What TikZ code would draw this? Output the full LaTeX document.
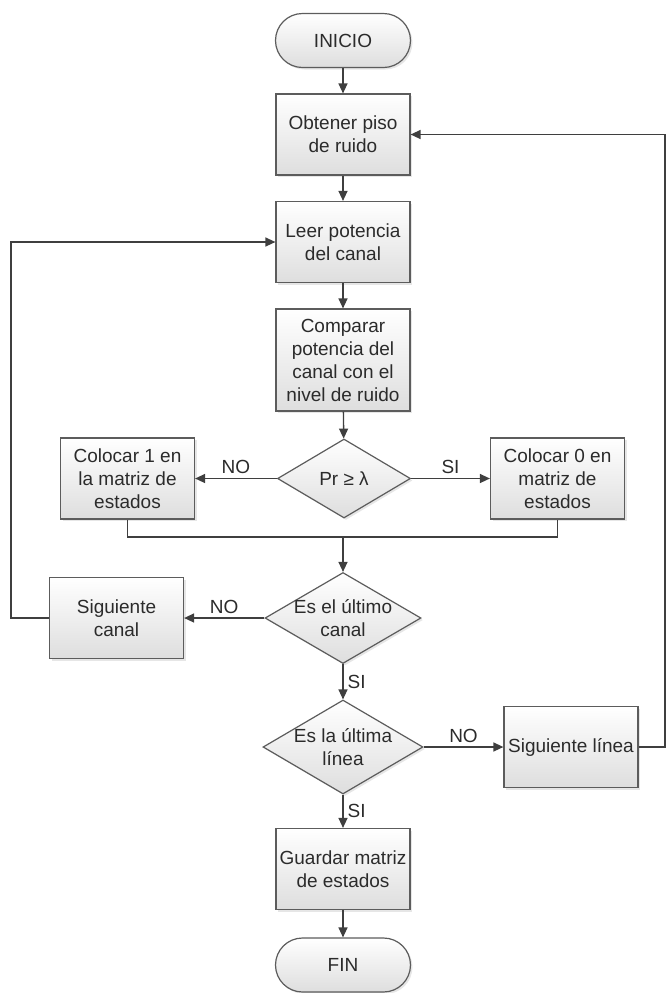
\documentclass[tikz,border=0pt]{standalone}
\usepackage{fontspec}
\setmainfont{Liberation Sans}
\usepackage{tikz}
\usetikzlibrary{arrows.meta,shapes.geometric,shadows}

\definecolor{linea}{HTML}{3F3F3F}
\definecolor{borde}{HTML}{5C5C5C}
\definecolor{texto}{HTML}{2B2B2B}

\tikzset{
    base/.style={draw=borde, line width=0.6pt, text=texto, align=center,
        top color=white, bottom color=black!13,
        drop shadow={shadow xshift=1pt, shadow yshift=-1pt, opacity=0.2},
        font=\fontsize{9.5}{11.5}\selectfont},
    caja/.style={base, rectangle, minimum width=67pt, minimum height=40.5pt, inner sep=1pt},
    terminal/.style={base, rectangle, rounded corners=13.5pt, minimum width=67.5pt, minimum height=27pt},
    decision/.style={base, diamond, aspect=1.71, inner sep=-1pt, minimum width=78pt, minimum height=45.5pt},
    flecha/.style={draw=linea, line width=0.7pt, -{Triangle[length=5pt,width=4.5pt]}},
    conector/.style={draw=linea, line width=0.7pt},
    etiqueta/.style={text=texto, inner sep=2pt, font=\fontsize{9.5}{11.5}\selectfont}
}

\begin{document}
\begin{tikzpicture}[x=0.5pt,y=-0.5pt]
        \useasboundingbox (0,0) rectangle (667,993);
        \node[terminal] (inicio) at (343,40.5) {INICIO};
        \node[caja] (piso) at (343,134.5) {Obtener piso\\de ruido};
        \node[caja] (leer) at (343,242) {Leer potencia\\del canal};
        \node[caja, minimum height=51pt] (comparar) at (343,360) {Comparar\\potencia del\\canal con el\\nivel de ruido};
        \node[decision, minimum width=66.5pt, minimum height=39.5pt] (pr) at (344,478.5) {Pr ≥ λ};
        \node[caja] (uno) at (127.5,478.5) {Colocar 1 en\\la matriz de\\estados};
        \node[caja] (cero) at (557.5,478.5) {Colocar 0 en\\matriz de\\estados};
        \coordinate (junta) at (343,537);
        \node[decision] (canal) at (343,618) {Es el último\\canal};
        \node[caja] (sigcanal) at (116.5,618) {Siguiente\\canal};
        \coordinate (izq) at (11,618);
        \node[decision, minimum width=80pt, minimum height=47pt] (ultima) at (343,747) {Es la última\\línea};
        \node[caja] (siglinea) at (571,747) {Siguiente línea};
        \coordinate (der) at (665,747);
        \node[caja] (guardar) at (343,869) {Guardar matriz\\de estados};
        \node[terminal] (fin) at (343,965) {FIN};

        \draw[flecha] (inicio) -- (piso);
        \draw[flecha] (piso) -- (leer);
        \draw[flecha] (leer) -- (comparar);
        \draw[flecha] (comparar) -- (pr);
        \draw[flecha] (pr) -- node[etiqueta, above] (no1) {NO} (uno);
        \draw[flecha] (pr) -- node[etiqueta, above] (si1) {SI} (cero);
        \draw[conector] (uno.south) |- (junta) -| (cero.south);
        \draw[flecha] (junta) -- (canal);
        \draw[flecha] (canal) -- node[etiqueta, above] (no2) {NO} (sigcanal);
        \draw[flecha] (sigcanal.west) -- (izq) |- (leer.west);
        \draw[flecha] (canal) -- node[etiqueta, right] (si2) {SI} (ultima);
        \draw[flecha] (ultima) -- node[etiqueta, above] (no3) {NO} (siglinea);
        \draw[flecha] (siglinea.east) -- (der) |- (piso.east);
        \draw[flecha] (ultima) -- node[etiqueta, right] (si3) {SI} (guardar);
        \draw[flecha] (guardar) -- (fin);
\end{tikzpicture}
\end{document}
